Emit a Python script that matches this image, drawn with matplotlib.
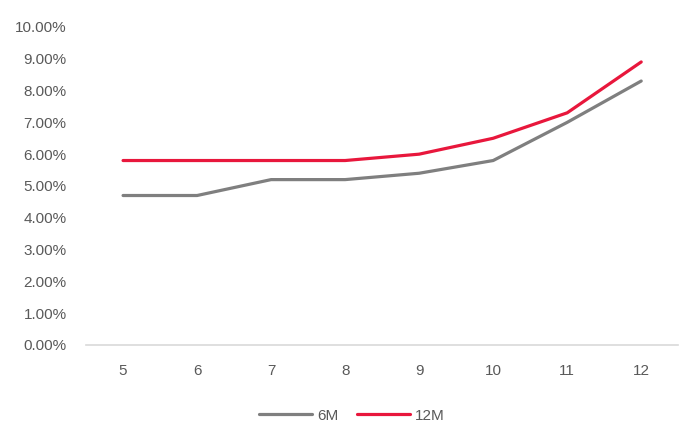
import matplotlib
matplotlib.use("Agg")
import matplotlib.pyplot as plt
from matplotlib.ticker import FuncFormatter

plt.rcParams['font.family'] = ['Liberation Sans', 'DejaVu Sans']

months = [5, 6, 7, 8, 9, 10, 11, 12]
rate_6m = [4.7, 4.7, 5.2, 5.2, 5.4, 5.8, 7.0, 8.3]
rate_12m = [5.8, 5.8, 5.8, 5.8, 6.0, 6.5, 7.3, 8.9]

TEXT = "#595959"

fig = plt.figure(figsize=(6.83, 4.28), dpi=100)
ax = fig.add_axes([0.126, 0.194, 0.867, 0.743])

x = list(range(len(months)))
ax.plot(x, rate_6m, color="#7f7f7f", lw=2.3, label="6M", solid_capstyle="round")
ax.plot(x, rate_12m, color="#e8173c", lw=2.3, label="12M", solid_capstyle="round")

ax.set_xlim(-0.5, len(months) - 0.5)
ax.set_ylim(0, 10)
ax.set_yticks(range(0, 11))
ax.yaxis.set_major_formatter(FuncFormatter(lambda v, p: f"{v:.2f}%"))
ax.set_xticks(x)
ax.set_xticklabels([str(m) for m in months])

for s in ["top", "right", "left"]:
    ax.spines[s].set_visible(False)
ax.spines["bottom"].set_color("#d9d9d9")
ax.spines["bottom"].set_linewidth(1.2)
ax.tick_params(axis="both", length=0, colors=TEXT, labelsize=11)
ax.tick_params(axis="x", pad=14)
ax.tick_params(axis="y", pad=14)

fig.legend(loc="lower center", ncol=2, frameon=False, fontsize=11,
           labelcolor=TEXT, bbox_to_anchor=(0.515, -0.02), handlelength=3.5,
           columnspacing=1.2, handletextpad=0.3)

fig.savefig("out.png", dpi=100)
